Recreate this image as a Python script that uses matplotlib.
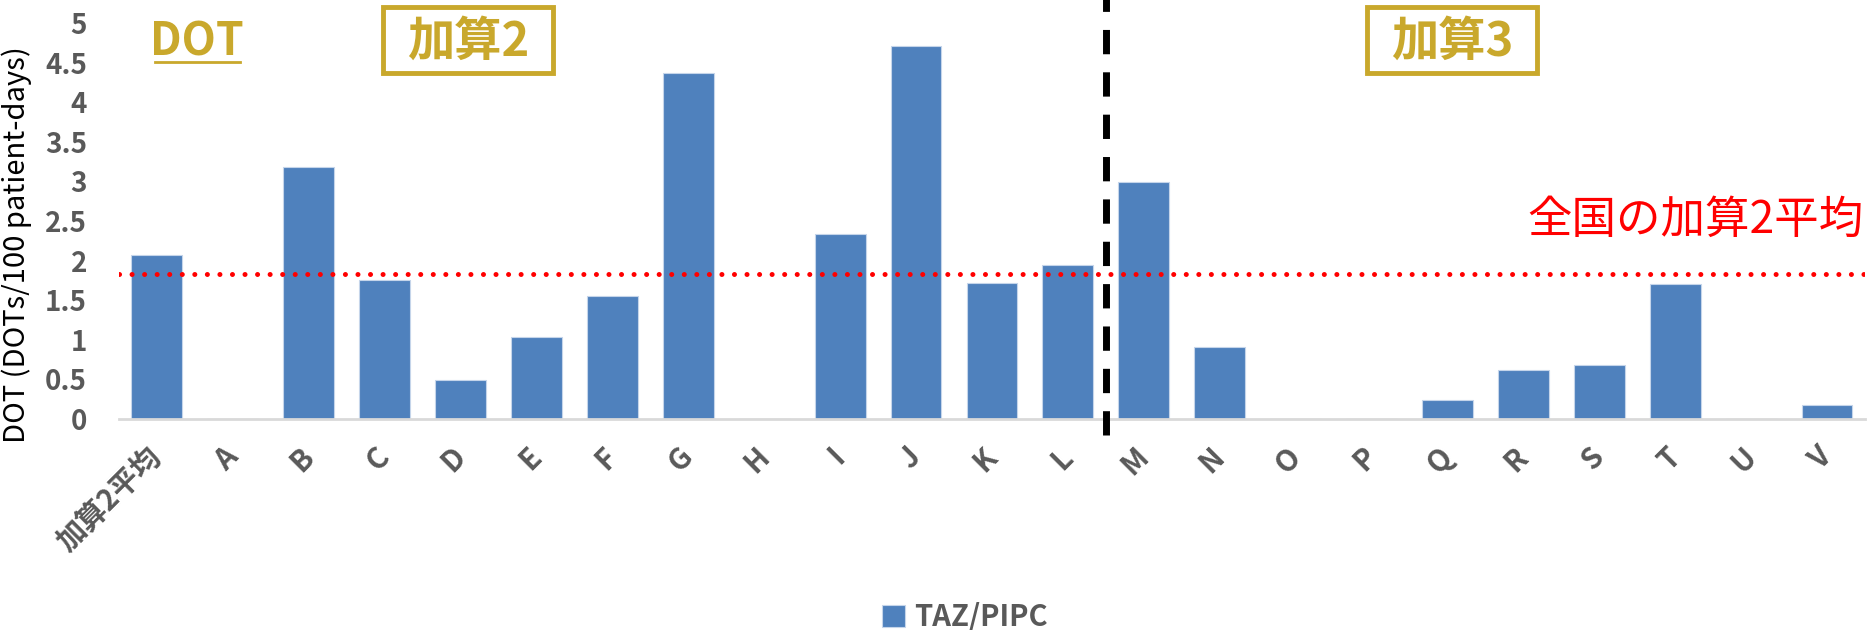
import numpy as np
import matplotlib.pyplot as plt
from matplotlib.patches import Rectangle
from matplotlib.lines import Line2D

plt.rcParams['font.family'] = ['Noto Sans CJK JP', 'DejaVu Sans']

# データ
categories = ['加算2平均', 'A', 'B', 'C', 'D', 'E', 'F', 'G', 'H', 'I', 'J', 'K', 'L',
              'M', 'N', 'O', 'P', 'Q', 'R', 'S', 'T', 'U', 'V']
taz_pipc = [2.07, 0, 3.18, 1.75, 0.49, 1.03, 1.55, 4.37, 0, 2.33, 4.71, 1.72, 1.95,
            2.99, 0.91, 0, 0, 0.24, 0.62, 0.68, 1.70, 0, 0.18]
national_avg = 1.83      # 全国の加算2平均
split_at = 12.5          # 加算2 / 加算3 の境界
yticks = [0, 0.5, 1, 1.5, 2, 2.5, 3, 3.5, 4, 4.5, 5]
ytick_labels = ['0', '0.5', '1', '1.5', '2', '2.5', '3', '3.5', '4', '4.5', '5']

bar_color = '#4F81BD'
gold = '#C9A82C'
gray = '#595959'

fig = plt.figure(figsize=(18.7, 6.3), dpi=100)
ax = fig.add_axes([0.0636, 0.335, 0.9337, 0.6285])

x = np.arange(len(categories))
ax.bar(x, taz_pipc, width=0.67, color=bar_color, edgecolor='#C5D5EA', linewidth=0.8,
       label='TAZ/PIPC', zorder=2)

ax.set_xlim(-0.5, len(categories) - 0.5)
ax.set_ylim(0, 5)
ax.set_yticks(yticks)
ax.set_yticklabels(ytick_labels, fontsize=20, fontweight='bold', color=gray)
ax.set_xticks(x)
ax.set_xticklabels(categories, fontsize=21, fontweight='bold', color=gray,
                   rotation=45, ha='right', va='center', rotation_mode='anchor')
ax.tick_params(axis='both', length=0)
ax.tick_params(axis='y', pad=23)
ax.tick_params(axis='x', pad=24)

for s in ['top', 'right', 'left']:
    ax.spines[s].set_visible(False)
ax.spines['bottom'].set_color('#D9D9D9')
ax.spines['bottom'].set_linewidth(2)

ax.set_ylabel('DOT (DOTs/100 patient-days)', fontsize=21, color='black')
ax.yaxis.set_label_coords(-0.050, 0.44)

# 全国平均ライン
ax.axhline(national_avg, color='red', lw=3.6, linestyle=(0, (0.01, 2.5)),
           dash_capstyle='round', zorder=3)
ax.text(len(categories) - 0.52, 2.51, '全国の加算2平均', color='red', fontsize=32,
        ha='right', va='center')

# 境界の破線
ax.plot([split_at, split_at], [-0.04, 1.06], color='black', lw=5,
        linestyle=(0, (3.5, 2.6)), transform=ax.get_xaxis_transform(),
        clip_on=False, zorder=4)

# 見出し
W, H = 1870, 630
fig.text(197 / W, 1 - 43 / H, 'DOT', fontsize=32, fontweight='bold', color=gold,
         ha='center', va='center')
fig.add_artist(Line2D([155 / W, 240 / W], [1 - 62 / H, 1 - 62 / H], color=gold, lw=2,
                      transform=fig.transFigure))

for cx, label in [(468, '加算2'), (1452, '加算3')]:
    fig.add_artist(Rectangle(((cx - 85) / W, 1 - 73 / H), 170 / W, 66 / H,
                             transform=fig.transFigure, fill=False,
                             edgecolor=gold, lw=3.5))
    fig.text(cx / W, 1 - 42 / H, label, fontsize=34, fontweight='bold', color=gold,
             ha='center', va='center')

leg = fig.legend(loc='center', bbox_to_anchor=(0.516, 0.02), frameon=False,
                 handlelength=0.8, handleheight=0.8, handletextpad=0.3,
                 prop={'size': 21, 'weight': 'bold'})
for t in leg.get_texts():
    t.set_color(gray)

fig.savefig('out.png', dpi=100)
